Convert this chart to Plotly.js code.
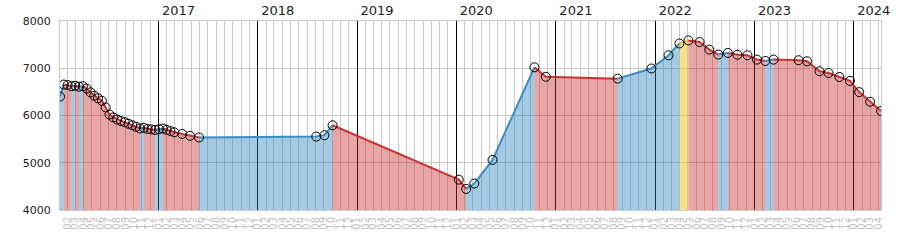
<!DOCTYPE html>
<html><head><meta charset="utf-8">
<script src="https://cdn.plot.ly/plotly-3.0.1.min.js"></script>
<style>html,body{margin:0;padding:0;background:#fff}#chart{width:900px;height:250px}</style>
</head><body><div id="chart"></div>
<script>
const dates = [
  '2016-01-05','2016-01-19','2016-02-02','2016-02-16','2016-03-01','2016-03-15','2016-03-29',
  '2016-04-12','2016-04-26','2016-05-10','2016-05-24','2016-06-07','2016-06-21','2016-07-05',
  '2016-07-19','2016-08-02','2016-08-16','2016-08-30','2016-09-13','2016-09-27','2016-10-11',
  '2016-10-25','2016-11-08','2016-11-22','2016-12-06','2016-12-20','2017-01-03','2017-01-17',
  '2017-01-31','2017-02-14','2017-02-28','2017-03-29','2017-04-27','2017-05-30',
  '2018-08-04','2018-09-03','2018-10-03',
  '2020-01-10','2020-02-06','2020-03-07','2020-05-13','2020-10-14','2020-11-25',
  '2021-08-16','2021-12-18','2022-02-19','2022-03-31','2022-05-03','2022-06-13','2022-07-19',
  '2022-08-21','2022-09-25','2022-10-30','2022-12-06','2023-01-10','2023-02-10','2023-03-12',
  '2023-06-12','2023-07-13','2023-08-28','2023-09-30','2023-11-09','2023-12-18',
  '2024-01-21','2024-03-01','2024-04-10'
];
const values = [
  6400,6655,6645,6620,6630,6610,6620,
  6570,6490,6420,6365,6310,6170,6020,
  5960,5915,5885,5860,5825,5795,5760,
  5725,5740,5715,5705,5695,5710,5725,
  5695,5670,5645,5610,5570,5535,
  5554,5583,5793,
  4642,4446,4560,5060,7020,6820,
  6780,6995,7274,7525,7589,7554,7395,
  7290,7325,7285,7275,7183,7154,7183,
  7170,7147,6937,6900,6815,6733,
  6495,6291,6095
];
// segments (by start date) drawn in the "hold" colour
const holdStarts = ['2022-03-31'];
const yTicks = [4000,5000,6000,7000,8000];
const xRange = ['2016-01-05','2024-04-10'];

const styles = {
  up:   {line:'#3a8cc4', fill:'rgba(40,130,190,0.42)'},
  down: {line:'#c83434', fill:'rgba(200,40,40,0.42)'},
  hold: {line:'#e6c43a', fill:'rgba(235,200,40,0.52)'}
};
function trendOf(i){
  if(holdStarts.includes(dates[i])) return 'hold';
  return values[i+1] > values[i] ? 'up' : 'down';
}
const traces = [];
let start = 0;
for(let i=0;i<dates.length-1;i++){
  const t = trendOf(i);
  if(i === dates.length-2 || trendOf(i+1) !== t){
    traces.push({x:dates.slice(start,i+2), y:values.slice(start,i+2), type:'scatter', mode:'lines',
      fill:'tozeroy', fillcolor:styles[t].fill, line:{color:styles[t].line,width:2},
      hoverinfo:'skip', showlegend:false});
    start = i+1;
  }
}
traces.push({x:dates, y:values, type:'scatter', mode:'markers',
  marker:{symbol:'circle-open', size:9, color:'#000', line:{width:1, color:'#000'}},
  hoverinfo:'x+y', showlegend:false});
traces.push({x:xRange, y:[null,null], xaxis:'x2', type:'scatter', mode:'lines', hoverinfo:'skip', showlegend:false});

const layout = {
  width:900, height:250,
  margin:{l:60, r:19, t:21, b:40, pad:0},
  paper_bgcolor:'#fff', plot_bgcolor:'#fff',
  font:{family:'DejaVu Sans', color:'#222'},
  xaxis:{type:'date', range:xRange, dtick:'M1', tick0:'2016-01-01', tickformat:'%m', tickangle:-90,
    tickfont:{family:'DejaVu Sans', size:10, color:'#c4c4c4'}, showgrid:true, gridcolor:'#c8c8c8', gridwidth:1,
    showline:true, linecolor:'#c8c8c8', mirror:true, ticks:'', zeroline:false, automargin:false, ticklabelstandoff:2},
  xaxis2:{type:'date', overlaying:'x', side:'top', range:xRange, dtick:'M12', tick0:'2017-01-01', tickformat:'%Y',
    showgrid:true, gridcolor:'#000', gridwidth:1, ticks:'', showline:false, zeroline:false, automargin:false,
    tickfont:{family:'DejaVu Sans', size:13, color:'#222'}, ticklabelstandoff:2, ticklabelshift:20},
  yaxis:{range:[4000,8000], tickvals:yTicks, showgrid:true, gridcolor:'#c8c8c8', gridwidth:1,
    showline:true, linecolor:'#c8c8c8', mirror:true, ticks:'', zeroline:false, automargin:false,
    tickfont:{family:'DejaVu Sans', size:11, color:'#222'}, ticklabelstandoff:6}
};
Plotly.newPlot('chart', traces, layout, {staticPlot:true, displayModeBar:false});
</script></body></html>
